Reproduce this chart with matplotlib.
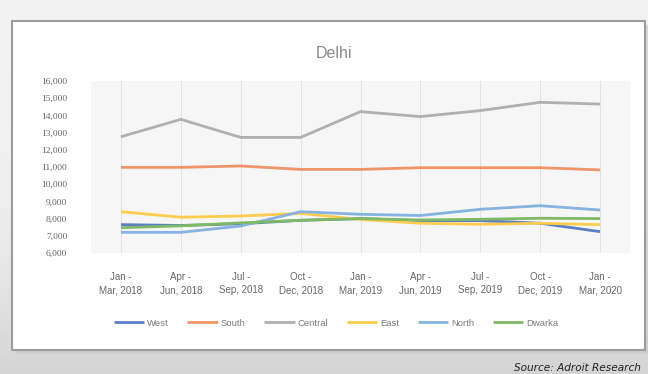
import matplotlib
matplotlib.use("Agg")
import matplotlib.pyplot as plt
from matplotlib.patches import Rectangle
import numpy as np

categories = ["Jan -\nMar, 2018", "Apr -\nJun, 2018", "Jul -\nSep, 2018", "Oct -\nDec, 2018",
              "Jan -\nMar, 2019", "Apr -\nJun, 2019", "Jul -\nSep, 2019", "Oct -\nDec, 2019",
              "Jan -\nMar, 2020"]
west = [7650, 7600, 7700, 7900, 8000, 7880, 7880, 7730, 7240]
south = [10980, 10980, 11060, 10860, 10860, 10960, 10960, 10960, 10830]
central = [12760, 13770, 12720, 12720, 14220, 13930, 14280, 14760, 14660]
east = [8400, 8080, 8150, 8300, 7950, 7730, 7670, 7730, 7650]
north = [7200, 7200, 7570, 8400, 8250, 8180, 8540, 8750, 8500]
dwarka = [7470, 7580, 7750, 7900, 8000, 7920, 7960, 8020, 8000]
yticks = [6000, 7000, 8000, 9000, 10000, 11000, 12000, 13000, 14000, 15000, 16000]

series = [("West", west, "#5b7fc4"), ("South", south, "#f0956a"),
          ("Central", central, "#b0b0b0"), ("East", east, "#ffcc4d"),
          ("North", north, "#86b3e0"), ("Dwarka", dwarka, "#7fb965")]

W, H = 648, 374
fig = plt.figure(figsize=(W / 100, H / 100), dpi=100)
fig.patch.set_facecolor("#f0f0f0")

# background gradient (shadow-ish)
bg = fig.add_axes([0, 0, 1, 1], zorder=-10)
grad = np.linspace(0, 1, 200)[:, None]
img = np.ones((200, 1, 3))
shade = 0.95 - 0.12 * np.clip(grad, 0, 1) ** 3
for c in range(3):
    img[:, 0, c] = shade[:, 0]
bg.imshow(img, aspect="auto", extent=[0, 1, 0, 1], origin="upper")
bg.set_xlim(0, 1)
bg.set_ylim(0, 1)
bg.axis("off")

# chart box with shadow
bx0, by0, bx1, by1 = 12 / W, 1 - 350 / H, 645 / W, 1 - 21 / H
bg.add_patch(Rectangle((bx0 + 0.004, by0 - 0.012), bx1 - bx0, by1 - by0,
                       facecolor="#c8c8c8", edgecolor="none", alpha=0.6))
bg.add_patch(Rectangle((bx0, by0), bx1 - bx0, by1 - by0,
                       facecolor="white", edgecolor="#9c9c9c", lw=1.5))

ax = fig.add_axes([91 / W, 1 - 253 / H, (630 - 91) / W, (253 - 81) / H])
ax.set_facecolor("#f6f6f6")
x = np.arange(len(categories))
for name, vals, col in series:
    ax.plot(x, vals, color=col, lw=2.0, label=name, solid_capstyle="butt")

ax.set_xlim(-0.5, len(categories) - 0.5)
ax.set_ylim(6000, 16000)
ax.set_yticks(yticks)
ax.set_yticklabels([f"{v:,}" for v in yticks], fontsize=6.8, color="#666666",
                   family="Liberation Serif")
ax.set_xticks(x)
ax.set_xticklabels(categories, fontsize=7, color="#666666",
                   family="Liberation Sans", linespacing=1.35)
ax.tick_params(length=0, pad=17, axis="y")
ax.tick_params(length=0, pad=14, axis="x")
for xi in x:
    ax.axvline(xi, color="#e2e2e2", lw=0.7, zorder=0)
for s in ax.spines.values():
    s.set_visible(False)

fig.text(334 / W, 1 - 53 / H, "Delhi", ha="center", va="center", fontsize=11.5,
         color="#8a8a8a", family="Liberation Sans")

fig.legend(loc="center", bbox_to_anchor=(336 / W, 1 - 323 / H), ncol=6,
           frameon=False, handlelength=3.2, columnspacing=2.0,
           handletextpad=0.3, labelcolor="#7a7a7a",
           prop={"family": "Liberation Sans", "size": 6.8})

fig.text(514 / W, 1 - 368 / H, "Source: Adroit Research", ha="left", va="center",
         fontsize=7.6, style="italic", color="#222222", family="DejaVu Sans")

fig.savefig("out.png", dpi=100)
